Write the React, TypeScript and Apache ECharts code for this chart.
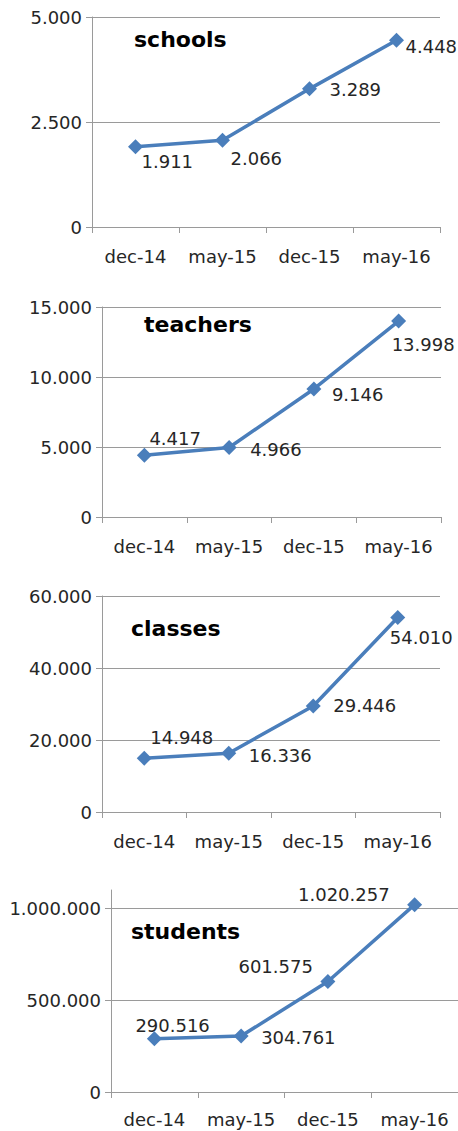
import React, { useEffect, useRef } from "react";
import * as echarts from "echarts";

const categories = ["dec-14", "may-15", "dec-15", "may-16"];
const schools = [1911, 2066, 3289, 4448];
const teachers = [4417, 4966, 9146, 13998];
const classes = [14948, 16336, 29446, 54010];
const students = [290516, 304761, 601575, 1020257];

const schoolsTicks = [0, 2500, 5000];
const teachersTicks = [0, 5000, 10000, 15000];
const classesTicks = [0, 20000, 40000, 60000];
const studentsTicks = [0, 500000, 1000000];

const titles = ["schools", "teachers", "classes", "students"];

// layout / style config
const FONT = "'DejaVu Sans', sans-serif";
const BLUE = "#4A7EBB";
const GREY = "#9a9a9a";
const TEXT = "#262626";
const FS = 18;

const panels = [
  { data: schools, ticks: schoolsTicks, max: 5000, interval: 2500, grid: { left: 92, top: 17, width: 348, height: 210 }, title: { left: 134, top: 28 },
    labels: [ { a: "left", dx: 6, dy: 15 }, { a: "left", dx: 8, dy: 18 }, { a: "left", dx: 20, dy: 1 }, { a: "left", dx: 9, dy: 6 } ] },
  { data: teachers, ticks: teachersTicks, max: 15000, interval: 5000, grid: { left: 102, top: 307, width: 339, height: 210 }, title: { left: 144, top: 313 },
    labels: [ { a: "left", dx: 5, dy: -17 }, { a: "left", dx: 21, dy: 2 }, { a: "left", dx: 18, dy: 6 }, { a: "left", dx: -7, dy: 23 } ] },
  { data: classes, ticks: classesTicks, max: 60000, interval: 20000, grid: { left: 102, top: 596, width: 338, height: 216 }, title: { left: 131, top: 617 },
    labels: [ { a: "left", dx: 6, dy: -21 }, { a: "left", dx: 20, dy: 2 }, { a: "left", dx: 20, dy: 0 }, { a: "left", dx: -8, dy: 20 } ] },
  { data: students, ticks: studentsTicks, max: 1100000, interval: 500000, grid: { left: 111, top: 890, width: 347, height: 202 }, title: { left: 131, top: 920 },
    labels: [ { a: "left", dx: -19, dy: -13 }, { a: "left", dx: 20, dy: 1 }, { a: "right", dx: -15, dy: -15 }, { a: "right", dx: -25, dy: -10 } ] },
];

const fmt = (n: number) => String(n).replace(/\B(?=(\d{3})+(?!\d))/g, ".");

export default function App() {
  const ref = useRef<HTMLDivElement>(null);
  useEffect(() => {
    if (!ref.current) return;
    const chart = echarts.init(ref.current, null, { renderer: "svg" });
    const option: any = {
      animation: false,
      backgroundColor: "#ffffff",
      title: panels.map((p, i) => ({
        text: titles[i],
        left: p.title.left,
        top: p.title.top,
        padding: 0,
        textStyle: { fontFamily: FONT, fontSize: 22, fontWeight: "bold", color: "#000" },
      })),
      grid: panels.map((p) => ({ ...p.grid, containLabel: false })),
      xAxis: panels.map((p, i) => ({
        type: "category",
        gridIndex: i,
        data: categories,
        boundaryGap: true,
        axisLine: { show: true, lineStyle: { color: GREY, width: 1 } },
        axisTick: { show: true, interval: 0, length: 6, alignWithLabel: false, lineStyle: { color: GREY } },
        axisLabel: { interval: 0, hideOverlap: false, margin: i === 3 ? 18 : 20, fontFamily: FONT, fontSize: FS, color: TEXT },
        splitLine: { show: false },
      })),
      yAxis: panels.map((p, i) => ({
        type: "value",
        gridIndex: i,
        min: 0,
        max: p.max,
        interval: p.interval,
        axisLine: { show: true, lineStyle: { color: GREY, width: 1 } },
        axisTick: { show: true, length: 6, lineStyle: { color: GREY }, customValues: p.ticks },
        axisLabel: {
          margin: 10,
          fontFamily: FONT,
          fontSize: FS,
          color: TEXT,
          customValues: p.ticks,
          formatter: (v: number) => (p.ticks.indexOf(v) >= 0 ? fmt(v) : ""),
        },
        splitLine: { show: true, lineStyle: { color: i === 3 ? [GREY, GREY, GREY, "rgba(0,0,0,0)"] : GREY, width: 1 } },
      })),
      series: panels.map((p, i) => ({
        type: "line",
        xAxisIndex: i,
        yAxisIndex: i,
        data: p.data.map((v, j) => ({
          value: v,
          label: {
            show: true,
            position: "inside",
            align: p.labels[j].a,
            verticalAlign: "middle",
            offset: [p.labels[j].dx, p.labels[j].dy],
            formatter: (d: any) => fmt(d.value),
            fontFamily: FONT,
            fontSize: FS,
            color: TEXT,
          },
        })),
        symbol: "diamond",
        symbolSize: 15,
        itemStyle: { color: BLUE },
        lineStyle: { color: BLUE, width: 3.5 },
        z: 3,
      })),
    };
    chart.setOption(option);
    return () => chart.dispose();
  }, []);
  return (
    <div
      ref={ref}
      style={{ position: "absolute", left: 0, top: 0, width: 458, height: 1131 }}
    />
  );
}
